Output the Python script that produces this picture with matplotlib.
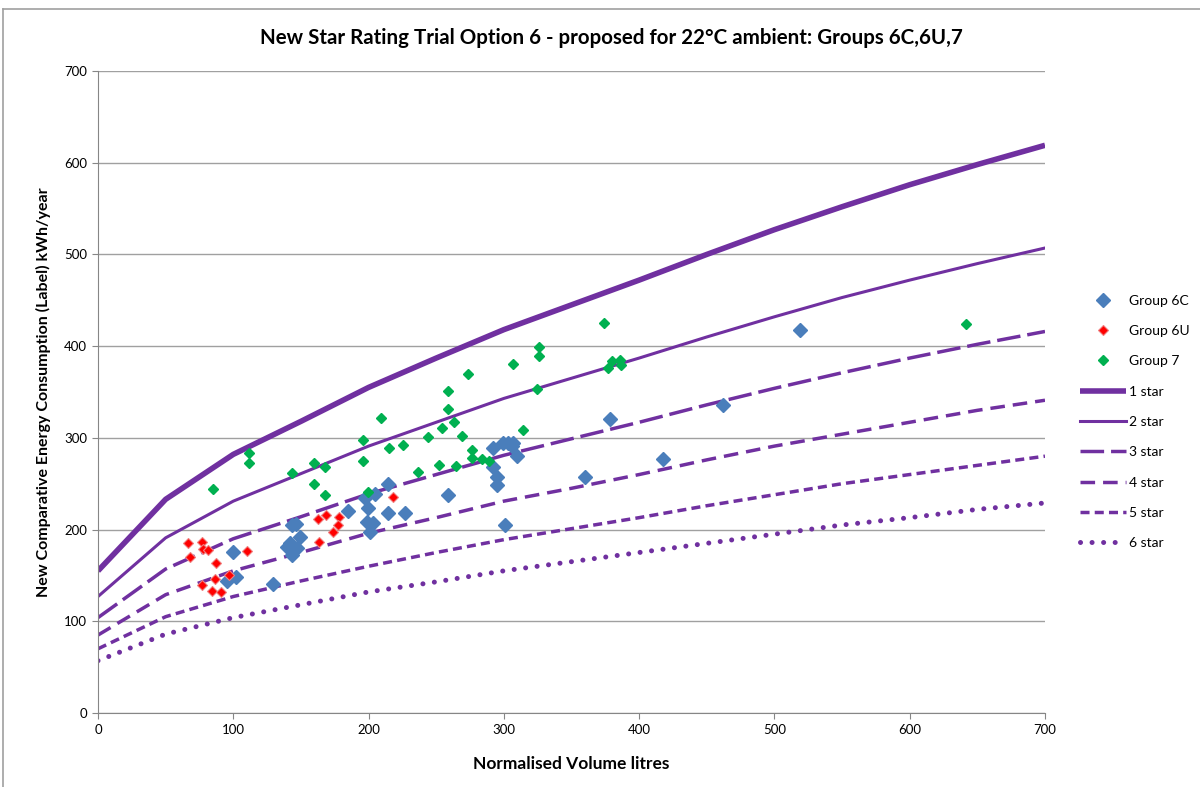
import matplotlib
matplotlib.use("Agg")
import matplotlib.pyplot as plt
from matplotlib.lines import Line2D

plt.rcParams['font.family'] = ['Lato', 'DejaVu Sans']

# ---- data ----
g6c_x = [99.8, 102, 95.4, 129.4, 143.4, 146, 141.9, 149.3, 143.4, 147.1, 139.7,
         184.8, 197.4, 204.7, 214.4, 199.6, 214.4, 227, 198.8, 203.3, 201,
         258.7, 292, 299.4, 303, 306.7, 306, 309.7, 292, 294.9, 294.9, 300.8,
         360, 378.4, 418, 462, 519]
g6c_y = [175.6, 148.3, 144, 140.7, 205, 206, 185.4, 192, 172.3, 180, 181,
         220.3, 234.4, 238.8, 249.7, 223.5, 218, 218, 208.3, 207.2, 197.4,
         237.7, 289, 294.4, 294.4, 294.4, 291, 280.2, 268.2, 257.3, 248.6, 205,
         257.3, 320.6, 277, 335.8, 417.6]

g6u_x = [66.5, 76.9, 77.6, 81.3, 68, 110, 87.2, 96.8, 86.5, 76.9, 84.3, 90.9,
         162.6, 168.5, 178, 177.4, 173.7, 163.4, 218]
g6u_y = [185, 186.5, 179, 177.7, 170, 176.6, 163.6, 150.5, 146, 139.6, 133, 132,
         211.5, 216, 213.7, 205, 197.4, 186.5, 235.5]

g7_x = [85, 111.6, 111.6, 143.4, 159.7, 167.8, 159.7, 167.8, 195.9, 195.9, 199.6,
        209.2, 215, 225.4, 236.5, 243.9, 252, 254.3, 258.7, 258.7, 263.1, 264.6,
        269, 273.5, 276.4, 276.4, 283.8, 289, 306.7, 314.1, 324.5, 326, 326,
        374, 377, 380, 385.8, 386.6, 641.6]
g7_y = [244, 283.5, 272.6, 261.7, 272.6, 268.2, 249.7, 237.7, 297.7, 274.8, 241,
        321.7, 289, 292.2, 262.8, 301, 270.4, 310.8, 331.5, 351, 317.3, 269.3,
        302, 369.6, 286.8, 278, 277, 274.8, 380.5, 308.6, 353, 399, 389,
        425, 376, 384, 385, 379.5, 424]

vol = [0, 50, 100, 150, 200, 250, 300, 350, 400, 450, 500, 550, 600, 650, 700]
star1 = [155, 233, 282, 318, 355, 387, 418, 445, 472, 500, 527, 552, 576, 598, 619]
star2 = [127, 191, 231, 261, 291, 317, 343, 365, 387, 410, 432, 453, 472, 490, 507]
star3 = [104, 157, 190, 214, 239, 260, 281, 299, 317, 336, 354, 371, 387, 402, 416]
star4 = [85, 129, 155, 175, 196, 213, 231, 245, 260, 276, 291, 304, 317, 330, 341]
star5 = [70, 105, 127, 144, 160, 175, 189, 201, 213, 226, 238, 250, 260, 270, 280]
star6 = [57, 86, 104, 118, 132, 143, 155, 165, 175, 185, 195, 205, 213, 222, 229]

x_ticks = [0, 100, 200, 300, 400, 500, 600, 700]
y_ticks = [0, 100, 200, 300, 400, 500, 600, 700]

# ---- figure ----
W, H = 1200, 787
fig = plt.figure(figsize=(W / 100, H / 100), dpi=100)
ax = fig.add_axes([98 / W, 1 - 713 / H, (1045 - 98) / W, (713 - 71) / H])

purple = '#7030A0'
ax.plot(g6c_x, g6c_y, linestyle='none', marker='D', ms=6.8, color='#4A7EBB',
        mec='#4A7EBB', label='Group 6C', zorder=3)
ax.plot(g6u_x, g6u_y, linestyle='none', marker='D', ms=5.0, color='#FF0000',
        mec='#F08080', mew=0.8, label='Group 6U', zorder=3)
ax.plot(g7_x, g7_y, linestyle='none', marker='D', ms=5.2, color='#00B050',
        mec='#00B050', label='Group 7', zorder=3)

ax.plot(vol, star1, color=purple, lw=4.0, label='1 star', solid_capstyle='butt')
ax.plot(vol, star2, color=purple, lw=2.2, label='2 star')
ax.plot(vol, star3, color=purple, lw=2.5, linestyle=(0, (6.8, 2.0)), label='3 star')
ax.plot(vol, star4, color=purple, lw=2.5, linestyle=(0, (4.2, 2.3)), label='4 star')
ax.plot(vol, star5, color=purple, lw=2.5, linestyle=(0, (2.6, 1.5)), label='5 star')
ax.plot(vol, star6, color=purple, lw=3.6, linestyle=(0, (0.01, 2.3)),
        dash_capstyle='round', label='6 star')

ax.set_xlim(0, 700)
ax.set_ylim(0, 700)
ax.set_xticks(x_ticks)
ax.set_yticks(y_ticks)
ax.tick_params(axis='both', labelsize=9.5, direction='out', length=4,
               color='#868686', pad=4)
ax.yaxis.grid(True, color='#A0A0A0', lw=1.0)
ax.set_axisbelow(True)
for s in ['top', 'right']:
    ax.spines[s].set_visible(False)
for s in ['left', 'bottom']:
    ax.spines[s].set_color('#868686')

ax.set_xlabel('Normalised Volume litres', fontsize=12.5, fontweight='bold', labelpad=14)
ax.set_ylabel('New Comparative Energy Consumption (Label) kWh/year', fontsize=11.5,
              fontweight='bold', labelpad=9)
fig.text(611 / W, 1 - 38 / H,
         'New Star Rating Trial Option 6 - proposed for 22°C ambient: Groups 6C,6U,7',
         ha='center', va='center', fontsize=14.8, fontweight='bold')

fig.legend(loc='center left', bbox_to_anchor=(1080 / W, 1 - 422 / H),
           frameon=False, fontsize=10, handlelength=3.3, handletextpad=0.2,
           labelspacing=1.32, borderpad=0, borderaxespad=0, numpoints=1)

# chart border (partially cropped in the reference)
fig.add_artist(Line2D([3 / W, 1], [1 - 9 / H, 1 - 9 / H], color='#A0A0A0', lw=1.2))
fig.add_artist(Line2D([3 / W, 3 / W], [0, 1 - 9 / H], color='#A0A0A0', lw=1.2))

fig.savefig('out.png', dpi=100)
